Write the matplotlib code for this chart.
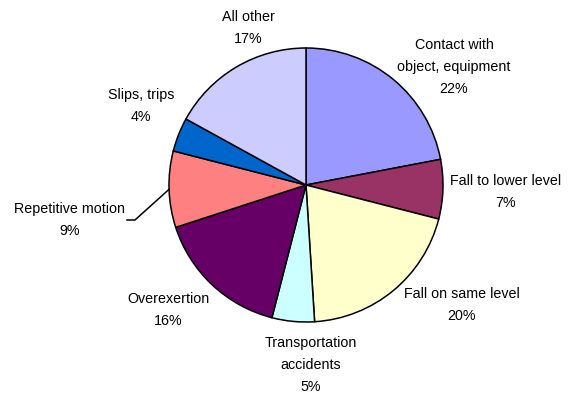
import numpy as np
import matplotlib.pyplot as plt

plt.rcParams['font.family'] = ['Liberation Sans', 'DejaVu Sans']

categories = ["Contact with\nobject, equipment", "Fall to lower level",
              "Fall on same level", "Transportation\naccidents",
              "Overexertion", "Repetitive motion", "Slips, trips", "All other"]
shares = [22, 7, 20, 5, 16, 9, 4, 17]
colors = ["#9999FF", "#993366", "#FFFFCC", "#CCFFFF",
          "#660066", "#FF8080", "#0066CC", "#CCCCFF"]

# label centres in pixel space (x, y from top)
label_pos = [(454, 67), (506, 192), (462, 305), (311, 365),
             (168, 310), (70, 220), (141, 106), (248, 28)]

W, H = 572, 396
fig = plt.figure(figsize=(W / 100, H / 100), dpi=100)
ax = fig.add_axes([0, 0, 1, 1])

cx, cy, r = 306, H - 185, 137
wedges, _ = ax.pie(shares, colors=colors, startangle=90, counterclock=False,
                   center=(cx, cy), radius=r,
                   wedgeprops=dict(edgecolor="black", linewidth=1.1))
ax.set_xlim(0, W)
ax.set_ylim(0, H)
ax.set_aspect("equal")
ax.axis("off")

for name, val, (px, py) in zip(categories, shares, label_pos):
    ax.text(px, H - py, f"{name}\n{val}%", ha="center", va="center",
            fontsize=10.3, linespacing=1.75, color="black")

# leader line for the repetitive motion label
w = wedges[5]
mid = np.deg2rad((w.theta1 + w.theta2) / 2)
ex, ey = cx + r * np.cos(mid), cy + r * np.sin(mid)
ax.plot([127, 135, ex], [H - 220, H - 220, ey], color="black", lw=1.1)

fig.savefig("out.png", dpi=100)
